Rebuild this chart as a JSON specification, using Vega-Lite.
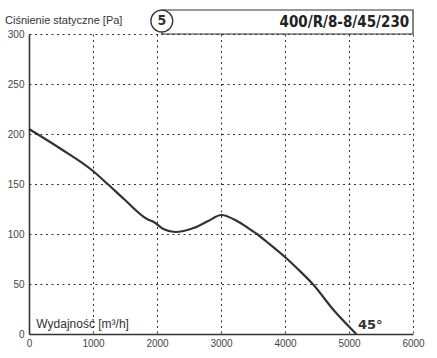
{
  "$schema": "https://vega.github.io/schema/vega-lite/v6.json",
  "autosize": "none",
  "width": 384,
  "height": 300,
  "padding": {"left": 29, "top": 34, "right": 24, "bottom": 24},
  "background": "white",
  "config": {"view": {"stroke": null}, "font": "Liberation Sans"},
  "layer": [
    {
      "data": {"values": [
        {"flow": 0, "pressure": 205},
        {"flow": 500, "pressure": 185},
        {"flow": 1000, "pressure": 163},
        {"flow": 1228, "pressure": 150},
        {"flow": 1500, "pressure": 134},
        {"flow": 1844, "pressure": 115},
        {"flow": 1950, "pressure": 112},
        {"flow": 2100, "pressure": 105},
        {"flow": 2286, "pressure": 102},
        {"flow": 2572, "pressure": 106},
        {"flow": 2800, "pressure": 113},
        {"flow": 3005, "pressure": 119},
        {"flow": 3250, "pressure": 113},
        {"flow": 3400, "pressure": 107},
        {"flow": 3562, "pressure": 100},
        {"flow": 3719, "pressure": 92},
        {"flow": 4000, "pressure": 77},
        {"flow": 4200, "pressure": 65},
        {"flow": 4447, "pressure": 49},
        {"flow": 4759, "pressure": 24},
        {"flow": 5114, "pressure": 0}
      ]},
      "mark": {"type": "line", "color": "#333333", "strokeWidth": 2.2, "interpolate": "monotone"},
      "encoding": {
        "x": {"field": "flow", "type": "quantitative",
          "scale": {"domain": [0, 6000], "nice": false},
          "axis": {"values": [0, 1000, 2000, 3000, 4000, 5000, 6000], "format": "d", "title": null, "ticks": false,
            "labelFont": "Liberation Sans", "labelFontWeight": "normal", "labelFontSize": 10, "labelColor": "#444444", "labelPadding": 4,
            "labelOverlap": false, "labelBound": false, "labelFlush": false,
            "domainColor": "#333333", "domainWidth": 1.6,
            "grid": true, "gridColor": "#333333", "gridDash": [2, 3.5], "gridWidth": 1, "gridOpacity": 1}},
        "y": {"field": "pressure", "type": "quantitative",
          "scale": {"domain": [0, 300], "nice": false},
          "axis": {"values": [0, 50, 100, 150, 200, 250, 300], "title": null, "ticks": false,
            "labelFont": "Liberation Sans", "labelFontWeight": "normal", "labelFontSize": 10, "labelColor": "#444444", "labelPadding": 5,
            "labelOverlap": false, "labelBound": false, "labelFlush": false,
            "domainColor": "#333333", "domainWidth": 1.6,
            "grid": true, "gridColor": "#333333", "gridDash": [2, 3.5], "gridWidth": 1, "gridOpacity": 1}}
      }
    },
    {
      "data": {"values": [{}]},
      "mark": {"type": "rect", "fill": "white", "stroke": "#333333", "strokeWidth": 1.2, "clip": false},
      "encoding": {
        "x": {"datum": 2075}, "x2": {"datum": 6000},
        "y": {"datum": 300}, "y2": {"datum": 324}
      }
    },
    {
      "data": {"values": [{}]},
      "mark": {"type": "point", "shape": "circle", "filled": false, "fill": "white", "fillOpacity": 1, "stroke": "#333333", "strokeWidth": 1.3, "size": 480, "opacity": 1, "clip": false},
      "encoding": {"x": {"datum": 2075}, "y": {"datum": 313}}
    },
    {
      "data": {"values": [{}]},
      "mark": {"type": "text", "text": "5", "font": "DejaVu Sans Condensed", "fontWeight": "bold", "fontSize": 14, "color": "#333333", "align": "center", "baseline": "middle", "clip": false},
      "encoding": {"x": {"datum": 2075}, "y": {"datum": 313}}
    },
    {
      "data": {"values": [{}]},
      "mark": {"type": "text", "text": "400/R/8-8/45/230", "font": "DejaVu Sans Condensed", "fontWeight": "bold", "fontSize": 15, "color": "#222222", "align": "right", "baseline": "middle", "clip": false},
      "encoding": {"x": {"datum": 5940}, "y": {"datum": 312.5}}
    },
    {
      "data": {"values": [{}]},
      "mark": {"type": "text", "text": "Ciśnienie statyczne [Pa]", "font": "Liberation Sans", "fontWeight": "normal", "fontSize": 11, "color": "#333333", "align": "left", "baseline": "middle", "clip": false},
      "encoding": {"x": {"datum": -375}, "y": {"datum": 313.5}}
    },
    {
      "data": {"values": [{}]},
      "mark": {"type": "text", "text": "Wydajność [m³/h]", "font": "Liberation Sans", "fontWeight": "normal", "fontSize": 12, "color": "#333333", "align": "left", "baseline": "middle"},
      "encoding": {"x": {"datum": 115}, "y": {"datum": 10}}
    },
    {
      "data": {"values": [{}]},
      "mark": {"type": "text", "text": "45°", "font": "DejaVu Sans", "fontWeight": "bold", "fontSize": 13, "color": "#333333", "align": "left", "baseline": "middle"},
      "encoding": {"x": {"datum": 5140}, "y": {"datum": 9}}
    }
  ]
}
